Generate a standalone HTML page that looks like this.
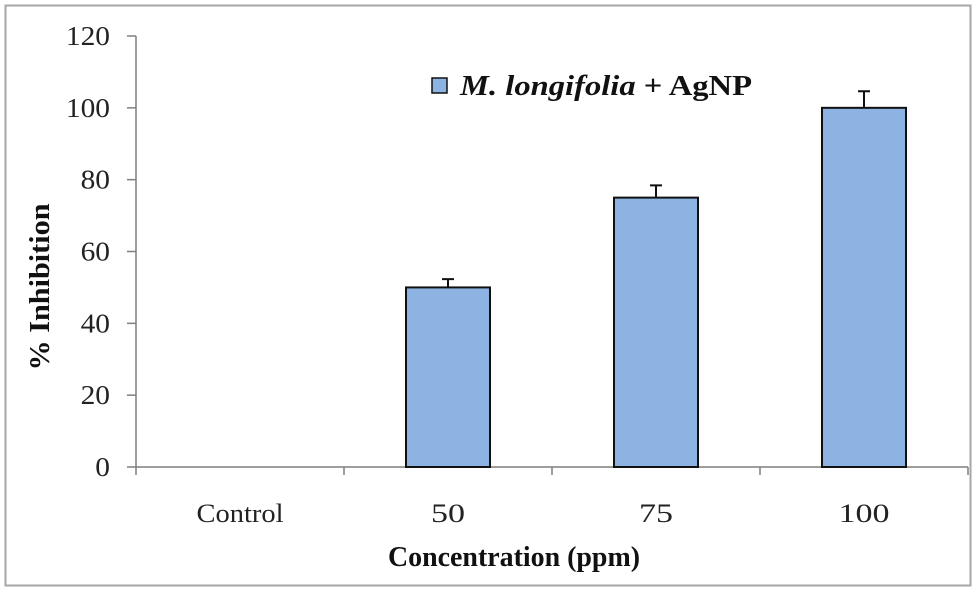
<!DOCTYPE html>
<html><head><meta charset="utf-8"><style>
body{margin:0;background:#fff;}
svg{display:block;font-family:"Liberation Serif",serif;}
</style></head><body>
<svg width="976" height="592" id="c">
<rect x="5.5" y="5.5" width="965" height="580" fill="#fff" stroke="#a6a6a6" stroke-width="2"/>
</svg>
<script>
const categories=["Control","50","75","100"];
const values=[0,50,75,100];
const errors=[0,2.3,3.4,4.6];
const yTicks=[0,20,40,60,80,100,120];
const ns="http://www.w3.org/2000/svg";
const svg=document.getElementById('c');
const X0=136,X1=968,Y0=467,Y1=36,YMAX=120;
const y=v=>Y0-(v/YMAX)*(Y0-Y1);
const band=(X1-X0)/categories.length;
const xc=i=>X0+band*(i+0.5);
function mk(t,a,txt){const e=document.createElementNS(ns,t);for(const k in a)e.setAttribute(k,a[k]);if(txt!==undefined)e.textContent=txt;svg.appendChild(e);return e;}
let e;
e=mk('line',{x1:X0,y1:Y1,x2:X0,y2:Y0,stroke:'#7f7f7f','stroke-width':1.5});


e=mk('line',{x1:X0,y1:Y0,x2:X1,y2:Y0,stroke:'#7f7f7f','stroke-width':1.5});


yTicks.forEach(t=>{
 e=mk('line',{x1:X0-9,y1:y(t),x2:X0,y2:y(t),stroke:'#7f7f7f','stroke-width':1.5});
 
 
 const s=String(t);
 e=mk('text',{x:X0-26,y:y(t)+9,'text-anchor':'end','font-size':27,fill:'#222',textLength:s.length*14.7,lengthAdjust:'spacingAndGlyphs'},s);
 
 
});
for(let i=0;i<=categories.length;i++){
 e=mk('line',{x1:X0+band*i,y1:Y0,x2:X0+band*i,y2:Y0+8,stroke:'#7f7f7f','stroke-width':1.5});
 
 
}
categories.forEach((c,i)=>{
 const w=c.length>3?87:c.length*17;
 e=mk('text',{x:xc(i),y:522,'text-anchor':'middle','font-size':26,fill:'#222',textLength:w,lengthAdjust:'spacingAndGlyphs'},c);
 
 
 if(values[i]>0){
  const bw=84;
  e=mk('rect',{x:xc(i)-bw/2,y:y(values[i]),width:bw,height:Y0-y(values[i]),fill:'#8db3e2',stroke:'#111','stroke-width':2});
  
  
  const ye=y(values[i]+errors[i]);
  e=mk('path',{d:`M${xc(i)} ${y(values[i])}V${ye}M${xc(i)-6} ${ye}H${xc(i)+6}`,stroke:'#111','stroke-width':2,fill:'none'});
  
  
 }
});
e=mk('rect',{x:432,y:78,width:15,height:15,fill:'#8db3e2',stroke:'#111','stroke-width':1.5});


e=mk('text',{x:460,y:95,'font-size':28,'font-weight':'bold',fill:'#111',textLength:292,lengthAdjust:'spacingAndGlyphs'});
e.innerHTML='<tspan font-style="italic">M. longifolia</tspan> + AgNP';


e=mk('text',{x:514,y:566,'text-anchor':'middle','font-size':28,'font-weight':'bold',fill:'#111',textLength:252,lengthAdjust:'spacingAndGlyphs'},'Concentration (ppm)');


e=mk('text',{x:0,y:0,'text-anchor':'middle','font-size':28,'font-weight':'bold',fill:'#111',textLength:167,lengthAdjust:'spacingAndGlyphs',transform:'translate(49,287) rotate(-90)'},'% Inhibition');


</script>
</body></html>
